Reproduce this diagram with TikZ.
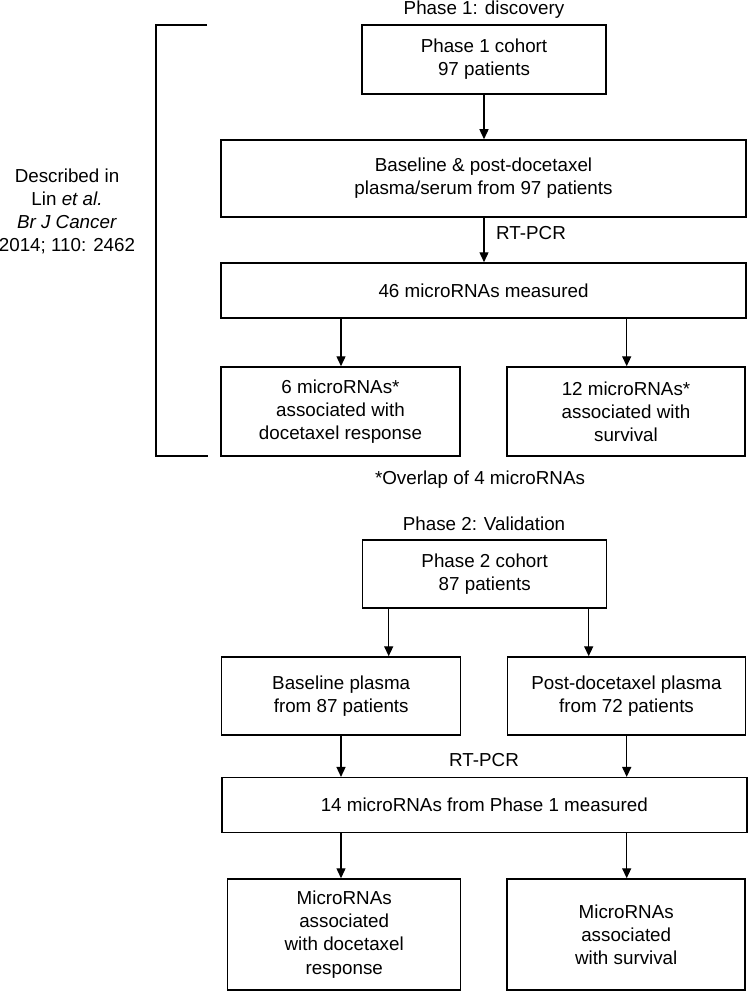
\documentclass[tikz,border=0pt]{standalone}
\usepackage{fontspec}
\setmainfont{Liberation Sans}
\usetikzlibrary{arrows.meta}
\begin{document}
\begin{tikzpicture}[x=1pt,y=-1pt,
  every node/.style={font=\fontsize{18.8}{23.2}\selectfont, inner sep=0pt, align=center},
  box/.style={draw, line width=1.5pt, rectangle},
  arr/.style={line width=1.4pt, -{Triangle[length=10pt,width=9pt]}},
  brk/.style={line width=1.9pt}]
\useasboundingbox (0,0) rectangle (748,992);
% Phase 1
\node (t1) at (484,10) {Phase 1: discovery};
\node[box, minimum width=244pt, minimum height=69pt] (p1) at (484,59.5) {Phase 1 cohort\\97 patients};
\node[box, minimum width=525pt, minimum height=77pt] (base) at (483.5,178.5) {Baseline \& post-docetaxel\\plasma/serum from 97 patients};
\node[box, minimum width=525pt, minimum height=55pt] (m46) at (483.5,290.5) {46 microRNAs measured};
\node[box, minimum width=239pt, minimum height=89pt] (r6) at (340.5,411.5) {6 microRNAs*\\associated with\\docetaxel response};
\node[box, minimum width=238pt, minimum height=89pt] (r12) at (626,411.5) {12 microRNAs*\\associated with\\survival};
\node (ov) at (480,480) {*Overlap of 4 microRNAs};
\node (rt1) at (531,233) {RT-PCR};
\node (desc) at (67,211.5) {Described in\\Lin \textit{et al.}\\\textit{Br J Cancer}\\2014; 110: 2462};
\coordinate (bt) at (207,25);
\coordinate (bb) at (207.7,455.7);
\draw[brk] (bt) -- (155.7,25) -- (155.7,455.7) -- (bb);
\coordinate (xa) at (484,0);
\coordinate (xl) at (341,0);
\coordinate (xr) at (626.7,0);
\draw[arr] (p1.south -| xa) -- (base.north -| xa);
\draw[arr] (base.south -| xa) -- (m46.north -| xa);
\draw[arr] (m46.south -| xl) -- (r6.north -| xl);
\draw[arr] (m46.south -| xr) -- (r12.north -| xr);
% Phase 2
\node (t2) at (484,524) {Phase 2: Validation};
\node[box, minimum width=244pt, minimum height=68pt] (p2) at (484.7,574) {Phase 2 cohort\\87 patients};
\node[box, minimum width=239pt, minimum height=78pt] (bp) at (341.2,696) {Baseline plasma\\from 87 patients};
\node[box, minimum width=238pt, minimum height=78pt] (pdp) at (626.5,696) {Post-docetaxel plasma\\from 72 patients};
\node[box, minimum width=525pt, minimum height=55pt] (m14) at (484.3,805.2) {14 microRNAs from Phase 1 measured};
\node[box, minimum width=233pt, minimum height=111pt] (fr) at (344.2,934.5) {MicroRNAs\\associated\\with docetaxel\\response};
\node[box, minimum width=238pt, minimum height=111pt] (fs) at (626.2,934.5) {MicroRNAs\\associated\\with survival};
\node (rt2) at (484,760) {RT-PCR};
\coordinate (x2l) at (388.7,0);
\coordinate (x2r) at (588.7,0);
\draw[arr] (p2.south -| x2l) -- (bp.north -| x2l);
\draw[arr] (p2.south -| x2r) -- (pdp.north -| x2r);
\draw[arr] (bp.south -| xl) -- (m14.north -| xl);
\draw[arr] (pdp.south -| xr) -- (m14.north -| xr);
\draw[arr] (m14.south -| xl) -- (fr.north -| xl);
\draw[arr] (m14.south -| xr) -- (fs.north -| xr);
\end{tikzpicture}
\end{document}
